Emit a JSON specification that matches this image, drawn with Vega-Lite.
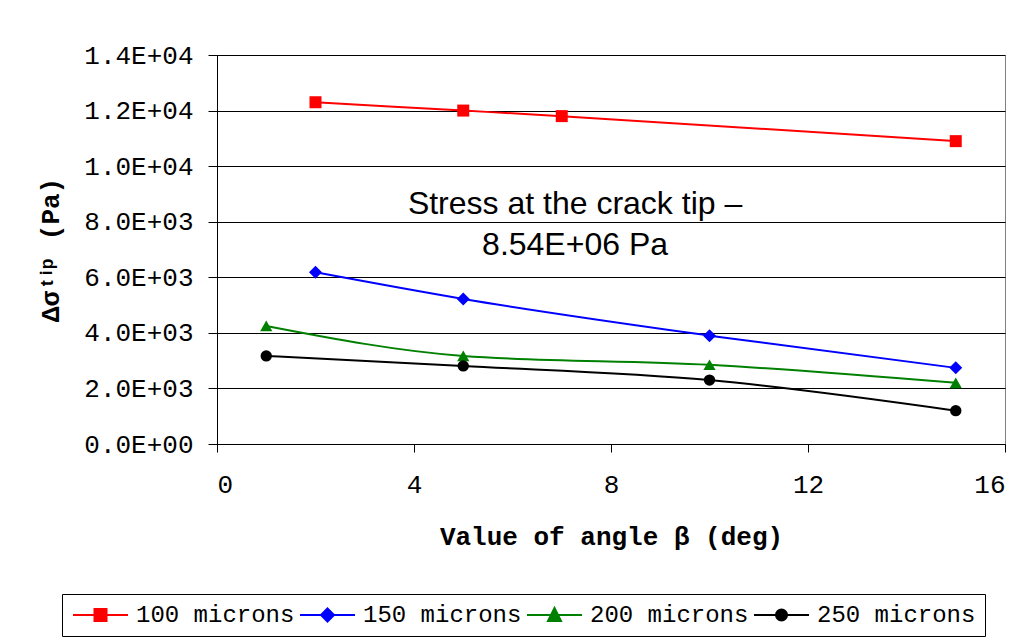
{
  "$schema": "https://vega.github.io/schema/vega-lite/v6.json",
  "width": 788,
  "height": 389,
  "autosize": {"type": "none"},
  "padding": {"left": 217, "top": 55, "right": 28, "bottom": 199},
  "background": "white",
  "config": {
    "font": "Liberation Mono",
    "view": {"stroke": "#808080", "strokeWidth": 1},
    "axis": {
      "labelFont": "Liberation Mono",
      "labelFontSize": 26,
      "labelColor": "black",
      "titleFont": "Liberation Mono",
      "titleFontSize": 26,
      "titleFontWeight": "bold",
      "titleColor": "black",
      "domainColor": "black",
      "tickColor": "black",
      "gridColor": "black",
      "gridWidth": 1
    }
  },
  "data": {
    "values": [
      {"series": "100 microns", "angle": 2, "stress": 12300},
      {"series": "100 microns", "angle": 5, "stress": 12000},
      {"series": "100 microns", "angle": 7, "stress": 11800},
      {"series": "100 microns", "angle": 15, "stress": 10900},
      {"series": "150 microns", "angle": 2, "stress": 6180},
      {"series": "150 microns", "angle": 5, "stress": 5220},
      {"series": "150 microns", "angle": 10, "stress": 3900},
      {"series": "150 microns", "angle": 15, "stress": 2740},
      {"series": "200 microns", "angle": 1, "stress": 4250},
      {"series": "200 microns", "angle": 5, "stress": 3170},
      {"series": "200 microns", "angle": 10, "stress": 2850},
      {"series": "200 microns", "angle": 15, "stress": 2200},
      {"series": "250 microns", "angle": 1, "stress": 3170},
      {"series": "250 microns", "angle": 5, "stress": 2810},
      {"series": "250 microns", "angle": 10, "stress": 2300},
      {"series": "250 microns", "angle": 15, "stress": 1200}
    ]
  },
  "layer": [
    {
      "mark": {"type": "line", "interpolate": "monotone", "strokeWidth": 2},
      "encoding": {
        "x": {
          "field": "angle",
          "type": "quantitative",
          "scale": {"domain": [0, 16], "nice": false},
          "axis": {
            "values": [0, 4, 8, 12, 16],
            "grid": false,
            "tickSize": 8,
            "labelPadding": 19,
            "title": "Value of angle β (deg)",
            "titlePadding": 26
          }
        },
        "y": {
          "field": "stress",
          "type": "quantitative",
          "scale": {"domain": [0, 14000], "nice": false},
          "axis": {
            "values": [0, 2000, 4000, 6000, 8000, 10000, 12000, 14000],
            "grid": true,
            "tickSize": 9,
            "labelPadding": 15,
            "labelExpr": "replace(format(datum.value, '.1e'), 'e+', 'E+0')",
            "title": "Δσᵗⁱᵖ (Pa)",
            "titlePadding": 20
          }
        },
        "color": {
          "field": "series",
          "type": "nominal",
          "scale": {
            "domain": ["100 microns", "150 microns", "200 microns", "250 microns"],
            "range": ["#FF0000", "#0000FF", "#008000", "#000000"]
          },
          "legend": {
            "title": null,
            "orient": "none",
            "legendX": -155,
            "legendY": 539,
            "direction": "horizontal",
            "symbolSize": 400,
            "symbolStrokeWidth": 2,
            "symbolOffset": 17.5,
            "labelOffset": 23.5,
            "labelFont": "Liberation Mono",
            "labelFontSize": 24,
            "labelColor": "black",
            "columnPadding": 1,
            "padding": 9,
            "strokeColor": "black",
            "fillColor": "white",
            "encode": {
              "symbols": {
                "update": {
                  "fill": {"scale": "color", "field": "value"},
                  "stroke": {"scale": "color", "field": "value"},
                  "opacity": {"value": 1}
                }
              }
            }
          }
        }
      }
    },
    {
      "transform": [{"filter": "datum.series === '100 microns'"}],
      "mark": {"type": "point", "shape": "square", "filled": true, "size": 144, "opacity": 1},
      "encoding": {
        "x": {"field": "angle", "type": "quantitative"},
        "y": {"field": "stress", "type": "quantitative"},
        "color": {"field": "series", "type": "nominal"}
      }
    },
    {
      "transform": [{"filter": "datum.series === '150 microns'"}],
      "mark": {"type": "point", "shape": "diamond", "filled": true, "size": 169, "opacity": 1},
      "encoding": {
        "x": {"field": "angle", "type": "quantitative"},
        "y": {"field": "stress", "type": "quantitative"},
        "color": {"field": "series", "type": "nominal"}
      }
    },
    {
      "transform": [{"filter": "datum.series === '200 microns'"}],
      "mark": {"type": "point", "shape": "triangle-up", "filled": true, "size": 150, "opacity": 1},
      "encoding": {
        "x": {"field": "angle", "type": "quantitative"},
        "y": {"field": "stress", "type": "quantitative"},
        "color": {"field": "series", "type": "nominal"}
      }
    },
    {
      "transform": [{"filter": "datum.series === '250 microns'"}],
      "mark": {"type": "point", "shape": "circle", "filled": true, "size": 130, "opacity": 1},
      "encoding": {
        "x": {"field": "angle", "type": "quantitative"},
        "y": {"field": "stress", "type": "quantitative"},
        "color": {"field": "series", "type": "nominal"}
      }
    },
    {
      "mark": {"type": "point", "filled": true, "opacity": 0},
      "encoding": {
        "x": {"field": "angle", "type": "quantitative"},
        "y": {"field": "stress", "type": "quantitative"},
        "shape": {
          "field": "series",
          "type": "nominal",
          "scale": {
            "domain": ["100 microns", "150 microns", "200 microns", "250 microns"],
            "range": [
              "M-2.75,0H2.75M-0.6,-0.6H0.6V0.6H-0.6Z",
              "M-2.75,0H2.75M0,-0.65L0.65,0L0,0.65L-0.65,0Z",
              "M-2.75,0H2.75M0,-0.7L0.65,0.6L-0.65,0.6Z",
              "M-2.75,0H2.75M0.55,0L0.51,0.21L0.39,0.39L0.21,0.51L0,0.55L-0.21,0.51L-0.39,0.39L-0.51,0.21L-0.55,0L-0.51,-0.21L-0.39,-0.39L-0.21,-0.51L0,-0.55L0.21,-0.51L0.39,-0.39L0.51,-0.21Z"
            ]
          },
          "legend": {
            "title": null,
            "orient": "none",
            "legendX": -155,
            "legendY": 539,
            "direction": "horizontal",
            "symbolSize": 400,
            "symbolStrokeWidth": 2,
            "symbolOffset": 17.5,
            "labelOffset": 23.5,
            "labelFont": "Liberation Mono",
            "labelFontSize": 24,
            "labelColor": "black",
            "columnPadding": 1,
            "padding": 9,
            "strokeColor": "black",
            "fillColor": "white",
            "encode": {
              "symbols": {
                "update": {
                  "fill": {"scale": "color", "field": "value"},
                  "stroke": {"scale": "color", "field": "value"},
                  "opacity": {"value": 1}
                }
              }
            }
          }
        }
      }
    },
    {
      "data": {"values": [{"note": "Stress at the crack tip"}]},
      "mark": {
        "type": "text",
        "font": "Liberation Sans",
        "fontSize": 32,
        "lineHeight": 41,
        "align": "center",
        "baseline": "alphabetic",
        "color": "black"
      },
      "encoding": {
        "x": {"datum": 7.27},
        "y": {"datum": 8280},
        "text": {"value": ["Stress at the crack tip –", "8.54E+06 Pa"]}
      }
    }
  ]
}
